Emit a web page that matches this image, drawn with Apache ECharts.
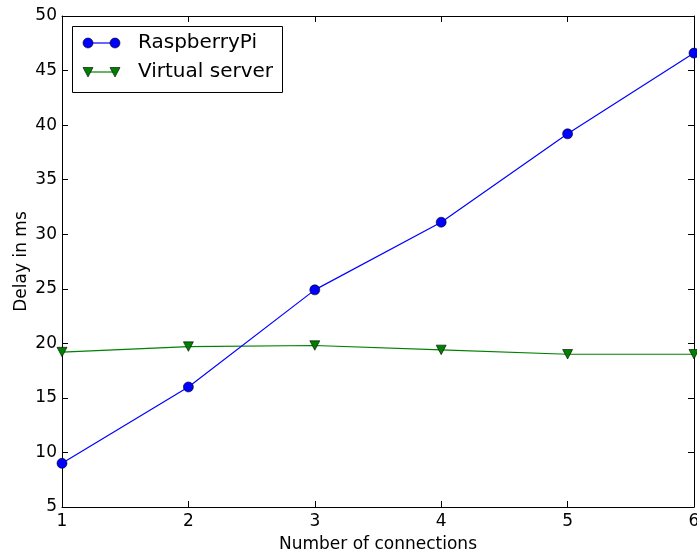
<!DOCTYPE html>
<html><head><meta charset="utf-8">
<script src="https://cdn.jsdelivr.net/npm/echarts@6/dist/echarts.min.js"></script>
<style>html,body{margin:0;padding:0;background:#fff}#c{width:697px;height:554px}</style>
</head><body><div id="c"></div>
<script>
var categories = [1, 2, 3, 4, 5, 6];
var raspberryPi = [9.0, 16.0, 24.9, 31.1, 39.2, 46.6];
var virtualServer = [19.2, 19.7, 19.8, 19.4, 19.0, 19.0];
var seriesNames = ['RaspberryPi', 'Virtual server'];

var chart = echarts.init(document.getElementById('c'));
var font = 'DejaVu Sans';
function pairs(vals){ return categories.map(function(c,i){return [c, vals[i]];}); }
var lineAxis = {show: true, lineStyle: {color: '#000', width: 1}};
var tick = {inside: true, length: 6, lineStyle: {color: '#000', width: 1}};
var blue = '#0000ff', green = '#008000';

chart.setOption({
  animation: false,
  grid: {left: 62, top: 16, right: 3, bottom: 47, containLabel: false, outerBoundsMode: 'none'},
  xAxis: [{
    type: 'value', min: 1, max: 6, interval: 1,
    name: 'Number of connections', nameLocation: 'middle', nameGap: 29,
    nameTextStyle: {fontFamily: font, fontSize: 17, color: '#000'},
    axisLine: lineAxis, axisTick: tick,
    axisLabel: {fontFamily: font, fontSize: 17, color: '#000', margin: 6, hideOverlap: false, showMaxLabel: true, showMinLabel: true},
    splitLine: {show: false}
  }, {
    type: 'value', min: 1, max: 6, interval: 1, position: 'top',
    axisLine: lineAxis, axisTick: tick,
    axisLabel: {show: false}, splitLine: {show: false}
  }],
  yAxis: [{
    type: 'value', min: 5, max: 50, interval: 5,
    name: 'Delay in ms', nameLocation: 'middle', nameGap: 32, nameMoveOverlap: false,
    nameTextStyle: {fontFamily: font, fontSize: 17, color: '#000'},
    axisLine: lineAxis, axisTick: tick,
    axisLabel: {fontFamily: font, fontSize: 17, color: '#000', margin: 5, showMaxLabel: true, showMinLabel: true},
    splitLine: {show: false}
  }, {
    type: 'value', min: 5, max: 50, interval: 5, position: 'right',
    axisLine: lineAxis, axisTick: tick,
    axisLabel: {show: false}, splitLine: {show: false}
  }],
  graphic: [
    {type: 'rect', left: 72, top: 26, shape: {x: 0, y: 0, width: 210, height: 66},
     style: {fill: '#fff', stroke: '#000', lineWidth: 1}, z: 100},
    {type: 'line', shape: {x1: 88, y1: 43, x2: 115, y2: 43}, style: {stroke: blue, lineWidth: 1.2}, z: 101},
    {type: 'circle', shape: {cx: 88, cy: 43, r: 5}, style: {fill: blue, stroke: '#000', lineWidth: 0.6}, z: 102},
    {type: 'circle', shape: {cx: 115, cy: 43, r: 5}, style: {fill: blue, stroke: '#000', lineWidth: 0.6}, z: 102},
    {type: 'text', x: 138, y: 43, style: {text: seriesNames[0], font: '20px "DejaVu Sans"', fill: '#000', verticalAlign: 'middle'}, z: 101},
    {type: 'line', shape: {x1: 88, y1: 72, x2: 115, y2: 72}, style: {stroke: green, lineWidth: 1.2}, z: 101},
    {type: 'polygon', shape: {points: [[83, 67.5], [93, 67.5], [88, 77]]}, style: {fill: green, stroke: '#000', lineWidth: 0.6}, z: 102},
    {type: 'polygon', shape: {points: [[110, 67.5], [120, 67.5], [115, 77]]}, style: {fill: green, stroke: '#000', lineWidth: 0.6}, z: 102},
    {type: 'text', x: 138, y: 72, style: {text: seriesNames[1], font: '20px "DejaVu Sans"', fill: '#000', verticalAlign: 'middle'}, z: 101}
  ],
  series: [{
    name: seriesNames[0], type: 'line', data: pairs(raspberryPi),
    symbol: 'circle', symbolSize: 10,
    lineStyle: {color: blue, width: 1.2},
    itemStyle: {color: blue, borderColor: '#000', borderWidth: 0.6},
    clip: false, z: 3
  }, {
    name: seriesNames[1], type: 'line', data: pairs(virtualServer),
    symbol: 'triangle', symbolRotate: 180, symbolSize: [10, 9.5],
    lineStyle: {color: green, width: 1.2},
    itemStyle: {color: green, borderColor: '#000', borderWidth: 0.6},
    clip: false, z: 2
  }]
});
</script></body></html>
